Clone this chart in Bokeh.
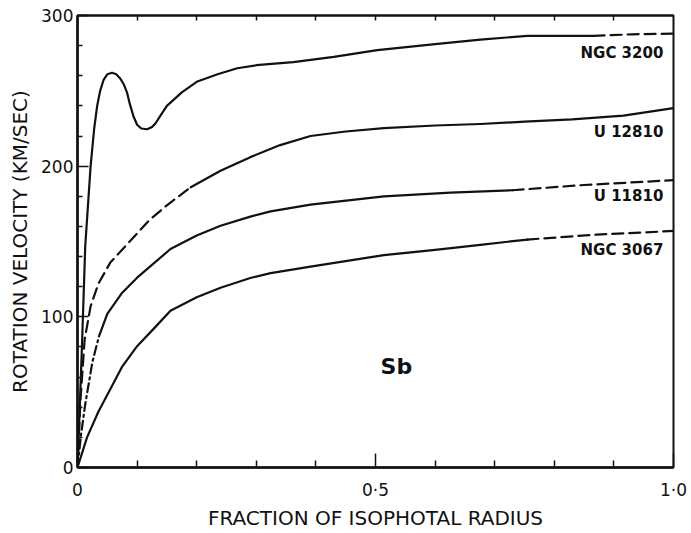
from bokeh.plotting import figure
from bokeh.models import FixedTicker, LinearAxis, Label, Range1d, CustomJSTickFormatter
from bokeh.core.properties import value
from bokeh.embed import file_html
from bokeh.resources import INLINE

# ---------------- data ----------------
ngc3200_x = [0, 0.007, 0.013, 0.022, 0.028, 0.033, 0.038, 0.044, 0.05, 0.058, 0.065, 0.072,
             0.078, 0.083, 0.088, 0.094, 0.1, 0.107, 0.117, 0.125, 0.131, 0.14, 0.15, 0.175,
             0.2, 0.235, 0.268, 0.3, 0.362, 0.43, 0.503, 0.6, 0.676, 0.755, 0.866]
ngc3200_v = [0, 75, 147, 200, 225, 240, 250, 257.5, 261, 262, 261, 258,
             254, 249, 241, 233, 227.5, 225, 224.5, 226, 228.5, 234, 240, 249,
             256, 261, 265, 267, 269, 272.5, 277, 281, 284, 286.5, 286.5]
ngc3200_dash_x = [0.866, 0.93, 1.0]
ngc3200_dash_v = [286.5, 287.5, 288]

u12810_dash_x = [0, 0.005, 0.012, 0.022, 0.035, 0.055, 0.083, 0.12, 0.15, 0.19]
u12810_dash_v = [0, 45, 85, 107, 122, 136, 148, 164, 174, 186]
u12810_x = [0.19, 0.24, 0.29, 0.34, 0.391, 0.45, 0.514, 0.6, 0.676, 0.75, 0.83, 0.916, 1.0]
u12810_v = [186, 197, 206, 214, 220, 223, 225.3, 227, 228, 229.5, 231, 233.6, 238.5]

u11810_dashdot_x = [0, 0.006, 0.013, 0.025, 0.036]
u11810_dashdot_v = [0, 22, 42, 70, 87]
u11810_x = [0.036, 0.05, 0.075, 0.1, 0.156, 0.2, 0.24, 0.29, 0.324, 0.391, 0.514, 0.626, 0.73]
u11810_v = [87, 102, 116, 126, 145, 154, 160.5, 166.5, 170, 174.5, 180, 182.5, 184]
u11810_dash_x = [0.73, 0.85, 1.0]
u11810_dash_v = [184, 187.5, 190.7]

ngc3067_x = [0, 0.016, 0.035, 0.055, 0.075, 0.1, 0.13, 0.156, 0.2, 0.24, 0.29, 0.324,
             0.391, 0.514, 0.6, 0.676, 0.755]
ngc3067_v = [0, 20, 37, 52, 67, 80.5, 93, 104, 113, 119.3, 125.8, 129,
             133.3, 140.9, 144.5, 147.8, 151.3]
ngc3067_dash_x = [0.755, 0.87, 1.0]
ngc3067_dash_v = [151.3, 154.5, 157]

curve_names = ["NGC 3200", "U 12810", "U 11810", "NGC 3067"]
curve_label_v = [275, 223, 180, 144.5]

x_ticks = [0, 0.5, 1.0]
x_tick_labels = {0: "0", 0.5: "0·5", 1: "1·0"}
x_minor = [0.1, 0.2, 0.3, 0.4, 0.6, 0.7, 0.8, 0.9]
top_ticks = [0.1, 0.2, 0.3, 0.4, 0.5, 0.6, 0.7, 0.8, 0.9]
y_ticks = [0, 100, 200, 300]
y_minor = [20, 40, 60, 80, 120, 140, 160, 180, 220, 240, 260, 280]

x_title = "FRACTION OF ISOPHOTAL RADIUS"
y_title = "ROTATION VELOCITY (KM/SEC)"
panel_label = "Sb"

FONT = "DejaVu Sans"
INK = "#111111"

p = figure(width=690, height=532, output_backend="svg", toolbar_location=None,
           x_range=Range1d(0, 1), y_range=Range1d(0, 300),
           min_border_left=77, min_border_right=17, min_border_top=15, min_border_bottom=55,
           background_fill_color="white", border_fill_color="white")
p.grid.visible = False
p.outline_line_color = INK
p.outline_line_width = 2

# axes
xa = p.xaxis[0]
xa.ticker = FixedTicker(ticks=x_ticks, minor_ticks=x_minor)
xa.major_label_overrides = x_tick_labels
ya = p.yaxis[0]
ya.ticker = FixedTicker(ticks=y_ticks, minor_ticks=y_minor)
for ax in (xa, ya):
    ax.axis_line_width = 2.5
    ax.axis_line_color = INK
    ax.major_tick_out = 0
    ax.minor_tick_out = 0
    ax.major_tick_line_color = INK
    ax.minor_tick_line_color = INK
    ax.major_tick_line_width = 1.5
    ax.minor_tick_line_width = 1.5
    ax.major_label_text_font = FONT
    ax.major_label_text_font_size = "17px"
    ax.major_label_text_color = INK
    ax.axis_label_text_font = FONT
    ax.axis_label_text_font_size = "20px"
    ax.axis_label_text_font_style = "normal"
    ax.axis_label_text_color = INK
xa.major_tick_in = 14
xa.minor_tick_in = 7
xa.major_label_standoff = 12
xa.axis_label = x_title
xa.axis_label_standoff = 3
ya.major_tick_in = 11
ya.minor_tick_in = 5
ya.major_label_standoff = 4
ya.axis_label = y_title
ya.axis_label_standoff = 6

top = LinearAxis(ticker=FixedTicker(ticks=top_ticks),
                 formatter=CustomJSTickFormatter(code="return ''"),
                 major_tick_in=5, major_tick_out=0, minor_tick_in=0, minor_tick_out=0,
                 major_label_standoff=0, axis_line_width=2,
                 axis_line_color=INK, major_tick_line_width=1.5, major_tick_line_color=INK)
p.add_layout(top, "above")

# curves
lw = 2.2
kw = dict(line_color=INK, line_width=lw, line_join="round", line_cap="round")
p.line(ngc3200_x, ngc3200_v, **kw)
p.line(ngc3200_dash_x, ngc3200_dash_v, line_dash="11 6", **kw)
p.line(u12810_dash_x, u12810_dash_v, line_dash="11 6", **kw)
p.line(u12810_x, u12810_v, **kw)
p.line(u11810_dashdot_x, u11810_dashdot_v, line_dash="9 4 2 4", **kw)
p.line(u11810_x, u11810_v, **kw)
p.line(u11810_dash_x, u11810_dash_v, line_dash="11 6", **kw)
p.line(ngc3067_x, ngc3067_v, **kw)
p.line(ngc3067_dash_x, ngc3067_dash_v, line_dash="11 6", **kw)

# curve labels
p.text(x=[0.983] * 4, y=curve_label_v, text=curve_names, text_font=value(FONT),
       text_font_size="15px", text_font_style="bold", text_color=INK,
       text_align="right", text_baseline="middle")

p.add_layout(Label(x=0.535, y=67, text=panel_label, text_font=FONT, text_font_size="22px",
                   text_font_style="bold", text_color=INK, text_align="center",
                   text_baseline="middle"))

open("out.html", "w").write(file_html(p, INLINE))
